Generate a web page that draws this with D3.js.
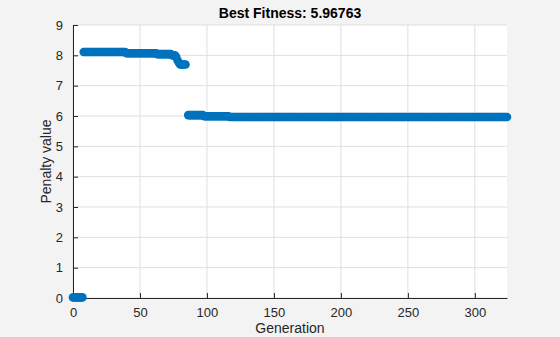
<!DOCTYPE html>
<html>
<head>
<script src="https://cdnjs.cloudflare.com/ajax/libs/d3/7.8.5/d3.min.js"></script>
<style>
  body { margin: 0; background: #f3f3f3; }
  text { font-family: "Liberation Sans", Arial, sans-serif; fill: #262626; }
</style>
</head>
<body>
<div id="chart"></div>
<script>
var runs = [
  [0, 7, 0.02],
  [8, 39, 8.11],
  [40, 62, 8.07],
  [63, 73, 8.04],
  [74, 76, 8.00],
  [77, 77, 7.95],
  [78, 78, 7.84],
  [79, 79, 7.76],
  [80, 84, 7.70],
  [86, 97, 6.03],
  [98, 116, 5.99],
  [117, 324, 5.96763]
];
var xTicks = [0, 50, 100, 150, 200, 250, 300];
var yTicks = [0, 1, 2, 3, 4, 5, 6, 7, 8, 9];
var titleText = "Best Fitness: 5.96763";

// expand runs into one point per generation
var data = [];
runs.forEach(function (r) {
  for (var g = r[0]; g <= r[1]; g++) data.push({gen: g, val: r[2]});
});

var W = 560, H = 337;
var margin = {top: 25, right: 53, bottom: 39, left: 73};

var svg = d3.select("#chart").append("svg")
    .attr("width", W)
    .attr("height", H);

var xScale = d3.scaleLinear().domain([0, 324]).range([margin.left, W - margin.right]);
var yScale = d3.scaleLinear().domain([0, 9]).range([H - margin.bottom, margin.top]);

// plot area
svg.append("rect")
   .attr("x", margin.left).attr("y", margin.top)
   .attr("width", W - margin.left - margin.right)
   .attr("height", H - margin.top - margin.bottom)
   .attr("fill", "#fff");

// grid
svg.append("g").selectAll("line").data(xTicks).enter().append("line")
   .attr("x1", d => xScale(d)).attr("x2", d => xScale(d))
   .attr("y1", margin.top).attr("y2", H - margin.bottom)
   .attr("stroke", "#dfdfdf").attr("stroke-width", 1);
svg.append("g").selectAll("line").data(yTicks).enter().append("line")
   .attr("x1", margin.left).attr("x2", W - margin.right)
   .attr("y1", d => yScale(d)).attr("y2", d => yScale(d))
   .attr("stroke", "#dfdfdf").attr("stroke-width", 1);

// axes, ticks pointing inward
var xAxis = svg.append("g")
   .attr("transform", "translate(0," + (H - margin.bottom) + ")")
   .call(d3.axisBottom(xScale).tickValues(xTicks).tickSizeInner(-5).tickSizeOuter(0).tickPadding(10));
var yAxis = svg.append("g")
   .attr("transform", "translate(" + margin.left + ",0)")
   .call(d3.axisLeft(yScale).tickValues(yTicks).tickSizeInner(-5).tickSizeOuter(0).tickPadding(10));

[xAxis, yAxis].forEach(function (a) {
  a.select(".domain").attr("stroke", "#262626");
  a.selectAll(".tick line").attr("stroke", "#262626");
  a.selectAll(".tick text")
   .attr("font-size", "13px")
   .attr("font-family", "Liberation Sans, Arial, sans-serif")
   .attr("fill", "#262626");
});

// points
svg.append("g").selectAll("circle").data(data).enter().append("circle")
   .attr("cx", d => xScale(d.gen))
   .attr("cy", d => yScale(d.val))
   .attr("r", 4.3)
   .attr("fill", "#0072BD");

// labels
svg.append("text")
   .attr("x", (margin.left + W - margin.right) / 2).attr("y", 18)
   .attr("text-anchor", "middle")
   .attr("font-size", "14px").attr("font-weight", "bold")
   .style("fill", "#000")
   .text(titleText);

svg.append("text")
   .attr("x", (margin.left + W - margin.right) / 2).attr("y", 333)
   .attr("text-anchor", "middle")
   .attr("font-size", "14px")
   .text("Generation");

svg.append("text")
   .attr("transform", "translate(51," + ((margin.top + H - margin.bottom) / 2) + ") rotate(-90)")
   .attr("text-anchor", "middle")
   .attr("font-size", "14px")
   .text("Penalty value");
</script>
</body>
</html>
